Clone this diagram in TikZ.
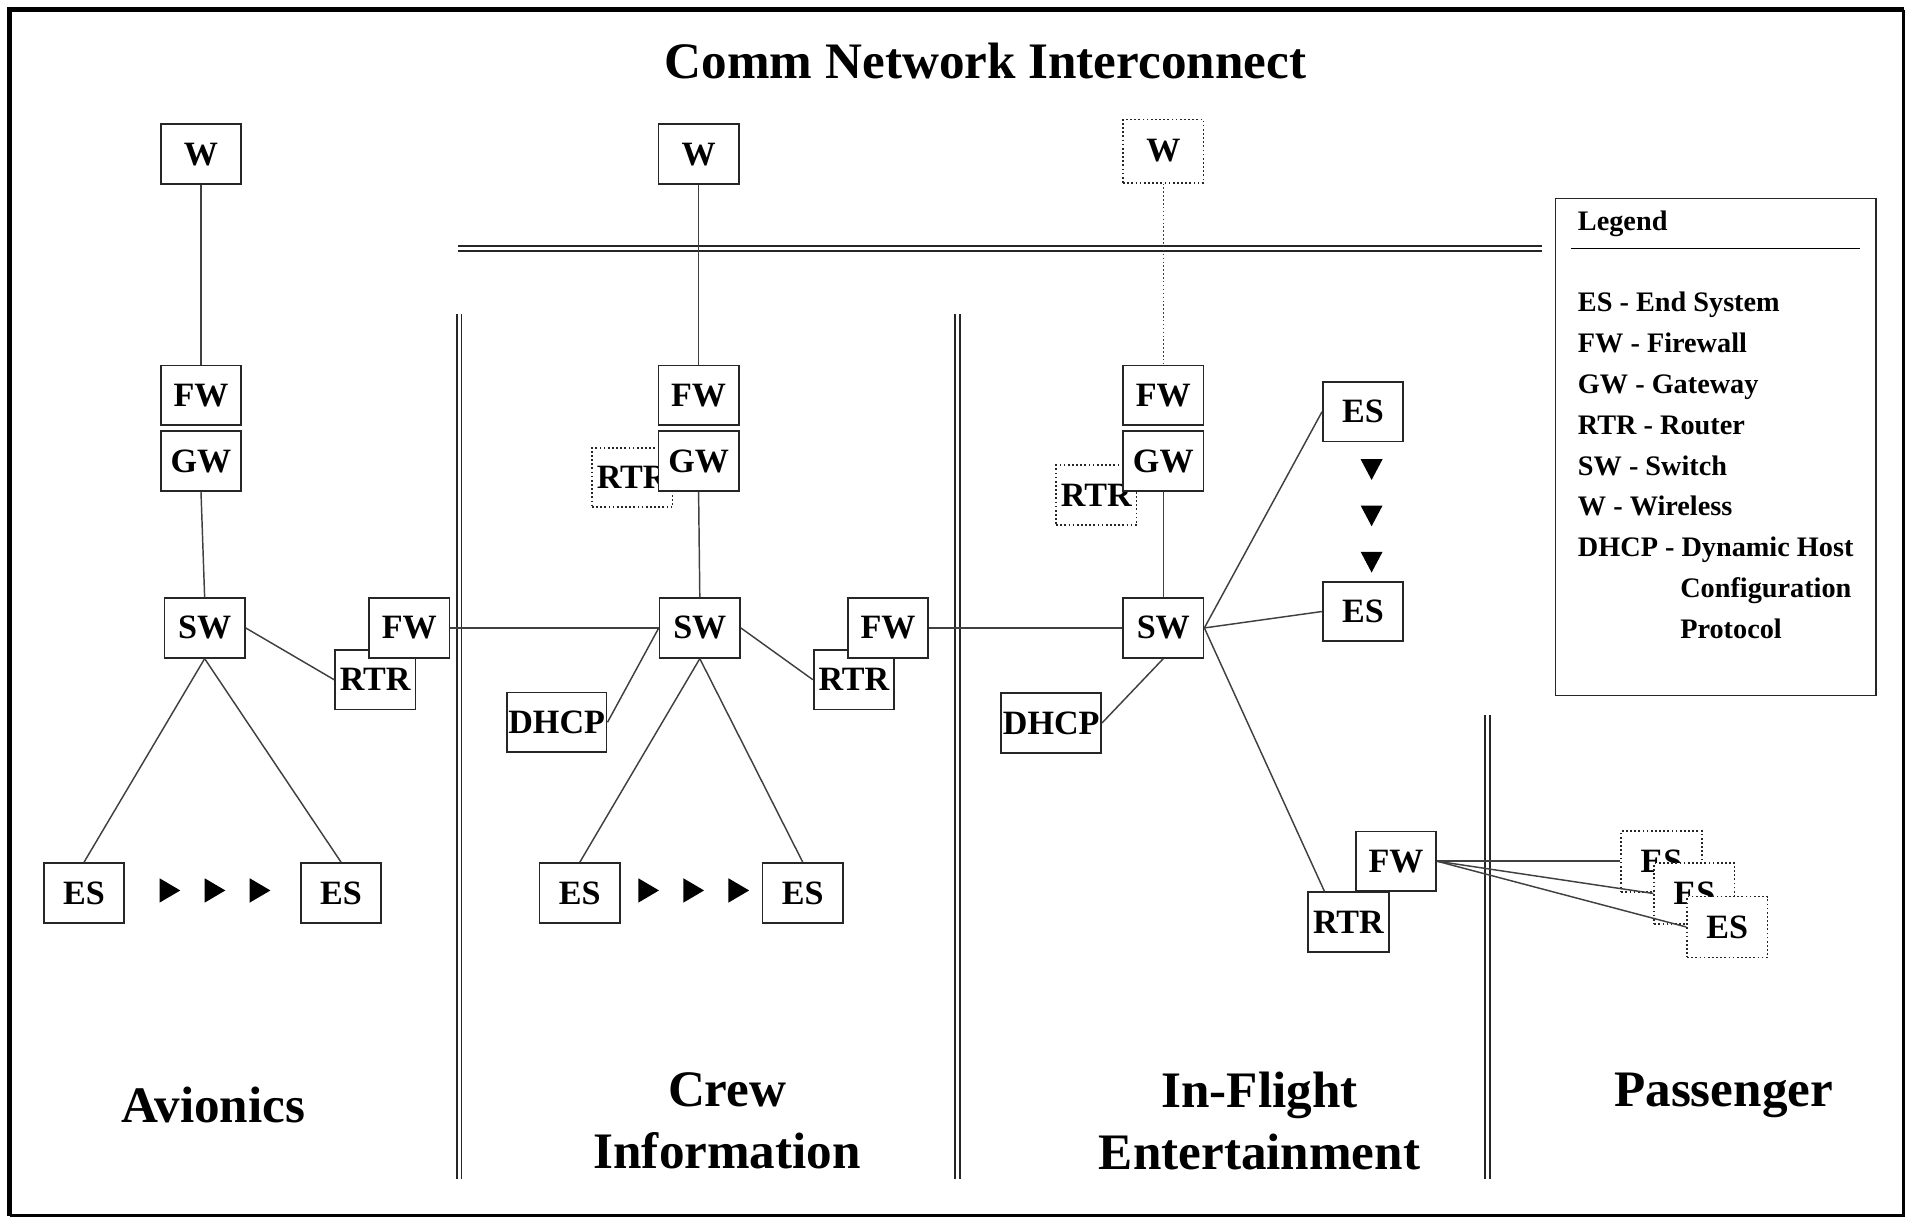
\documentclass[tikz,border=0pt]{standalone}
\usepackage{fontspec}
\setmainfont{Liberation Serif}
\begin{document}
\begin{tikzpicture}[x=0.5pt,y=-0.5pt,
  box/.style={draw=black!85, fill=white, line width=0.7pt, minimum width=33pt, minimum height=24.5pt, inner sep=0pt, font=\fontsize{14}{14}\selectfont\bfseries},
  dbox/.style={box, densely dotted},
  conn/.style={draw=black!75, line width=0.6pt},
  dconn/.style={conn, densely dotted},
  sec/.style={font=\fontsize{21}{25.5}\selectfont\bfseries, align=center, inner sep=0pt},
  leg/.style={font=\fontsize{11.6}{12}\selectfont\bfseries, anchor=base west, inner sep=0pt},
  dbl/.style={draw=black!85, line width=0.6pt}]
\useasboundingbox (0,0) rectangle (1568,1001);
% frame
\draw[line width=2pt] (8,998) -- (8,8) -- (1563,8);
\draw[line width=1.2pt] (1563,8) -- (1563,998) -- (8,998);
% title
\node[sec] (title) at (809,50) {Comm Network Interconnect};
% separators
\draw[dbl] (376,202) -- (1266,202);
\draw[dbl] (376,206) -- (1266,206);
\draw[dbl] (375,258) -- (375,968);
\draw[dbl] (379,258) -- (379,968);
\draw[dbl] (784,258) -- (784,968);
\draw[dbl] (788,258) -- (788,968);
\draw[dbl] (1219,587) -- (1219,968);
\draw[dbl] (1223,587) -- (1223,968);
% ---------- Avionics
\node[box] (aW) at (165,126.5) {W};
\node[box] (aFW) at (165,324.5) {FW};
\node[box] (aGW) at (165,378.5) {GW};
\node[box] (aSW) at (168,515.5) {SW};
\node[box] (aRTR) at (308,558) {RTR};
\node[box] (aFW2) at (336,515.5) {FW};
\node[box] (aES1) at (69,733) {ES};
\node[box] (aES2) at (280,733) {ES};
\foreach \x in {139,176,213} \fill (\x-8,721) -- (\x+9,731) -- (\x-8,741) -- cycle;
\node[sec] (aLab) at (175,907) {Avionics};
% ---------- Crew
\node[box] (cW) at (573.5,126.5) {W};
\node[box] (cFW) at (573.5,324.5) {FW};
\node[dbox] (cRTRd) at (519,392) {RTR};
\node[box] (cGW) at (573.5,378.5) {GW};
\node[box] (cSW) at (574.5,515.5) {SW};
\node[box, minimum width=41pt] (cDHCP) at (457,593) {DHCP};
\node[box] (cRTR) at (701,558) {RTR};
\node[box] (cFW2) at (729,515.5) {FW};
\node[box] (cES1) at (476,733) {ES};
\node[box] (cES2) at (659,733) {ES};
\foreach \x in {532,569,606} \fill (\x-8,721) -- (\x+9,731) -- (\x-8,741) -- cycle;
\node[sec] (cLab) at (597,920) {Crew\\Information};
% ---------- In-Flight Entertainment
\node[dbox, minimum height=26pt] (iW) at (955,124) {W};
\node[box] (iFW) at (955,324.5) {FW};
\node[dbox] (iRTRd) at (900,406.5) {RTR};
\node[box] (iGW) at (955,378.5) {GW};
\node[box] (iSW) at (955,515.5) {SW};
\node[box, minimum width=41pt] (iDHCP) at (863,593.5) {DHCP};
\node[box] (iES1) at (1119,338) {ES};
\node[box] (iES2) at (1119,502) {ES};
\foreach \y in {385,423,461} \fill (1117,\y-8) -- (1135,\y-8) -- (1126,\y+9) -- cycle;
\node[box] (iRTR) at (1107,757) {RTR};
\node[box] (iFW2) at (1146,707) {FW};
\node[sec] (iLab) at (1034,920) {In-Flight\\Entertainment};
% ---------- Passenger
\node[dbox, minimum height=25pt] (pES1) at (1364,707) {ES};
\node[dbox, minimum height=25pt] (pES2) at (1391,733.5) {ES};
\node[dbox, minimum height=25pt] (pES3) at (1418,761) {ES};
\node[sec, anchor=base] (pLab) at (1415,908) {Passenger};
% ---------- connectors
\draw[conn] (aW) -- (aFW);
\draw[conn] (aGW.south) -- (aSW.north);
\draw[conn] (aSW.east) -- (aRTR.west);
\draw[conn] (aSW.south) -- (aES1.north);
\draw[conn] (aSW.south) -- (aES2.north);
\draw[conn] (aFW2.east) -- (cSW.west);
\draw[conn] (cW) -- (cFW);
\draw[conn] (cGW.south) -- (cSW.north);
\draw[conn] (cSW.west) -- (cDHCP.east);
\draw[conn] (cSW.east) -- (cRTR.west);
\draw[conn] (cSW.south) -- (cES1.north);
\draw[conn] (cSW.south) -- (cES2.north);
\draw[conn] (cFW2.east) -- (iSW.west);
\draw[dconn] (iW) -- (iFW);
\draw[conn] (iGW.south) -- (iSW.north);
\draw[conn] (iSW.south) -- (iDHCP.east);
\draw[conn] (iSW.east) -- (iES1.west);
\draw[conn] (iSW.east) -- (iES2.west);
\draw[conn] (iSW.east) -- (iRTR.128);
\draw[conn] (iFW2.east) -- (pES1.west);
\draw[conn] (iFW2.east) -- (pES2.west);
\draw[conn] (iFW2.east) -- (pES3.west);
% ---------- legend
\node[draw=black!85, line width=0.7pt, minimum width=131.5pt, minimum height=204pt, inner sep=0pt] (legend) at (1408.5,367) {};
\node[leg] (lt) at (1295,189) {Legend};
\draw[line width=0.7pt] (1290,204) -- (1527,204);
\node[leg] (l1) at (1295,256) {ES - End System};
\node[leg] (l2) at (1295,289.5) {FW - Firewall};
\node[leg] (l3) at (1295,323) {GW - Gateway};
\node[leg] (l4) at (1295,356.5) {RTR - Router};
\node[leg] (l5) at (1295,390) {SW - Switch};
\node[leg] (l6) at (1295,423.5) {W - Wireless};
\node[leg] (l7) at (1295,457) {DHCP - Dynamic Host};
\node[leg] (l8) at (1379,490.5) {Configuration};
\node[leg] (l9) at (1379,524) {Protocol};
\end{tikzpicture}
\end{document}
